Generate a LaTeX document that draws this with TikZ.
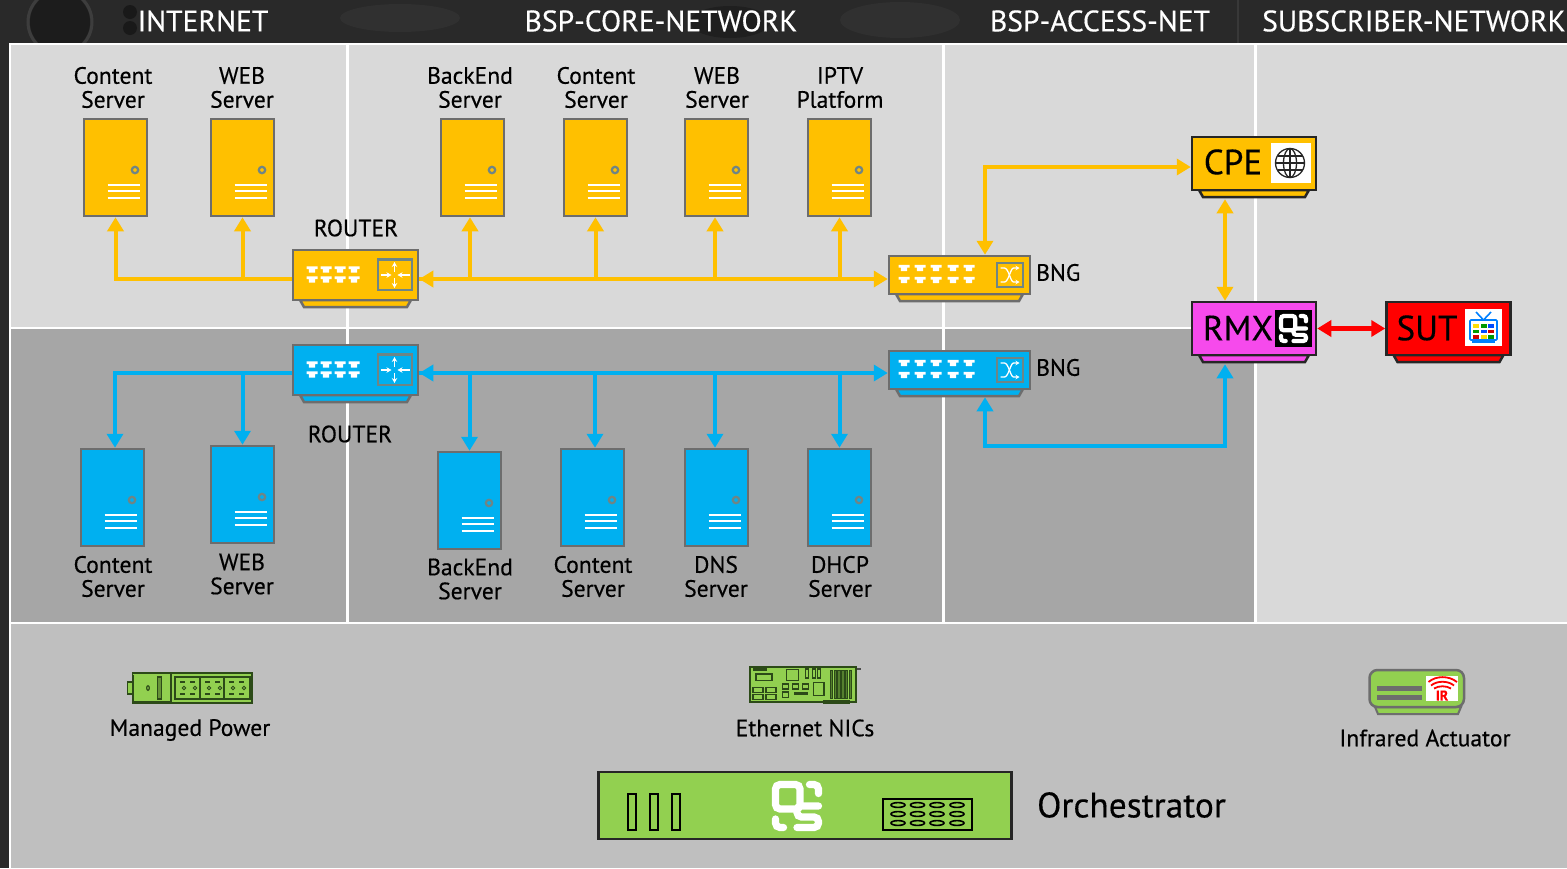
\documentclass[tikz,border=0pt]{standalone}
\usepackage{fontspec}
\setmainfont{PT Sans}[FakeBold=0.35]
\usetikzlibrary{arrows.meta,shapes.geometric}
\definecolor{gold}{HTML}{FFC000}
\definecolor{sky}{HTML}{00B0F0}
\definecolor{lite}{HTML}{D9D9D9}
\definecolor{midg}{HTML}{A6A6A6}
\definecolor{lowg}{HTML}{BFBFBF}
\definecolor{edge}{HTML}{6D6D6D}
\definecolor{teal2}{HTML}{6F8585}
\definecolor{lime}{HTML}{92D050}
\definecolor{darklime}{HTML}{2C4A18}
\definecolor{magent}{HTML}{F64AEC}
\tikzset{
 lbl/.style={inner sep=0pt,align=center,font=\fontsize{23.6}{24}\selectfont,text=black},
 hdr/.style={inner sep=0pt,text=white,font=\fontsize{29.6}{30}\selectfont},
 srvbox/.style={draw=edge,line width=2.5pt,minimum width=63pt,minimum height=97pt,inner sep=0pt},
 devbox/.style={line width=2.5pt,inner sep=0pt},
 conn/.style={line width=4pt},
 tipb/.style={-{Triangle[width=16pt,length=14pt]}},
 tipbb/.style={{Triangle[width=16pt,length=14pt]}-{Triangle[width=16pt,length=14pt]}},
}
% name, cx, cy, colour
\newcommand\srv[4]{%
 \node[srvbox,fill=#4] (#1) at (#2,#3) {};
 \begin{scope}[shift={(#2,#3)}]
  \draw[teal2,line width=2.2pt] (19.5,2.5) circle (3.2);
  \foreach \dy in {17,23.5,30} \draw[white,line width=2pt] (-8,\dy) -- (24,\dy);
 \end{scope}}
% name, cx, cy, w, h, fill, edge
\newcommand\dev[7]{%
 \draw[#7,line width=2.5pt,fill=#6] (#2-#4/2+7,#3+#5/2) -- (#2-#4/2+11,#3+#5/2+7) -- (#2+#4/2-11,#3+#5/2+7) -- (#2+#4/2-7,#3+#5/2) -- cycle;
 \node[devbox,draw=#7,fill=#6,minimum width=#4 pt,minimum height=#5 pt] (#1) at (#2,#3) {};}
\newcommand\port[2]{\fill[white] (#1-5.5,#2-3.2) -- (#1+5.5,#2-3.2) -- (#1+5.5,#2-0.3) -- (#1+3.2,#2-0.3) -- (#1+3.2,#2+3.2) -- (#1-3.2,#2+3.2) -- (#1-3.2,#2-0.3) -- (#1-5.5,#2-0.3) -- cycle;}
% router details around centre
\newcommand\rdet[2]{%
 \begin{scope}[shift={(#1,#2)}]
  \foreach \px in {-43.5,-29.5,-15.5,-1.5} {\port{\px}{-5.5}\port{\px}{4.5}}
  \draw[teal2,line width=2.5pt] (22.5,-15.5) rectangle (56.5,15);
  \begin{scope}[white,line width=1.4pt,-{Stealth[length=5pt,width=5.5pt]}]
   \draw (39,-3) -- (39,-13); \draw (39,3) -- (39,13);
   \draw (25,0) -- (36,0); \draw (54,0) -- (42,0);
  \end{scope}
 \end{scope}}
\newcommand\bdet[2]{%
 \begin{scope}[shift={(#1,#2)}]
  \foreach \px in {-55.5,-39.5,-23.5,-6.5,9.5} {\port{\px}{-7}\port{\px}{5}}
  \draw[teal2,line width=2.5pt] (37.5,-12) rectangle (63.5,12);
  \begin{scope}[white,line width=1.3pt,-{Stealth[length=4pt,width=4.5pt]}]
   \draw (41,-7) -- (45,-7) .. controls (49,-7) and (51,7) .. (54,7) -- (60,7);
   \draw (41,7) -- (45,7) .. controls (49,7) and (51,-7) .. (54,-7) -- (60,-7);
  \end{scope}
 \end{scope}}
% logo: x, y, size, colour
\newcommand\oslogo[4]{%
 \begin{scope}[shift={(#1,#2)},scale=#3]
  \begin{scope}[#4,line width=#3*0.145 pt,rounded corners=#3*0.09 pt,line cap=round]
   \draw (.07,.07) -- (.56,.07) -- (.56,.56) -- (.07,.56) -- cycle;
   \draw (.75,.07) -- (.93,.07) -- (.93,.25);
   \draw (.07,.76) -- (.07,.93) -- (.23,.93);
   \draw (.93,.5) -- (.5,.5) -- (.5,.72) -- (.93,.72) -- (.93,.93) -- (.5,.93);
  \end{scope}
 \end{scope}}
\begin{document}
\begin{tikzpicture}[x=1pt,y=-1pt]
\useasboundingbox (0,0) rectangle (1567,868);
% header background
\fill[black!84] (0,0) rectangle (1567,868);
\fill[black!89] (60,22) circle (30);
\draw[black!76,line width=3pt] (60,22) circle (32);
\fill[black!90] (130,12) circle (7);
\fill[black!90] (130,28) circle (7);
\fill[black!81] (400,18) ellipse (60 and 14);
\fill[black!88] (730,22) ellipse (40 and 16);
\fill[black!81] (900,20) ellipse (60 and 18);
\fill[black!78] (1237,0) rectangle (1239,44);
% panels
\fill[lite] (10,44) rectangle (1567,328);
\fill[midg] (10,328) rectangle (1255,623);
\fill[lite] (1255,328) rectangle (1567,623);
\fill[lowg] (10,623) rectangle (1567,868);
\draw[white,line width=2.5pt] (1567,44) -- (10,44) -- (10,868);
\draw[white,line width=2.5pt] (10,328) -- (1255,328);
\draw[white,line width=2.5pt] (10,623) -- (1567,623);
\foreach \vx in {347.5,943.5,1255.5} \draw[white,line width=2.5pt] (\vx,44) -- (\vx,623);
% headings
\node[hdr] (h1) at (203,21) {INTERNET};
\node[hdr] (h2) at (661,21) {BSP-CORE-NETWORK};
\node[hdr] (h3) at (1100,21) {BSP-ACCESS-NET};
\node[hdr,anchor=west] (h4) at (1262,21) {SUBSCRIBER-NETWORK};
% servers
\srv{s1}{115.5}{167.5}{gold}
\srv{s2}{242.5}{167.5}{gold}
\srv{s3}{472.5}{167.5}{gold}
\srv{s4}{595.5}{167.5}{gold}
\srv{s5}{716.5}{167.5}{gold}
\srv{s6}{839.5}{167.5}{gold}
\srv{b1}{112.5}{497.5}{sky}
\srv{b2}{242.5}{494.5}{sky}
\srv{b3}{469.5}{500.5}{sky}
\srv{b4}{592.5}{497.5}{sky}
\srv{b5}{716.5}{497.5}{sky}
\srv{b6}{839.5}{497.5}{sky}
% labels
\node[lbl] (t1) at (113,87.5) {Content\\Server};
\node[lbl] (t2) at (242,87.5) {WEB\\Server};
\node[lbl] (t3) at (470,87.5) {BackEnd\\Server};
\node[lbl] (t4) at (596,87.5) {Content\\Server};
\node[lbl] (t5) at (717,87.5) {WEB\\Server};
\node[lbl] (t6) at (840,87.5) {IPTV\\Platform};
\node[lbl] (u1) at (113,576.5) {Content\\Server};
\node[lbl] (u2) at (242,574) {WEB\\Server};
\node[lbl] (u3) at (470,579) {BackEnd\\Server};
\node[lbl] (u4) at (593,576.5) {Content\\Server};
\node[lbl] (u5) at (716,576.5) {DNS\\Server};
\node[lbl] (u6) at (840,576.5) {DHCP\\Server};
\node[lbl] (rl1) at (356,228) {ROUTER};
\node[lbl] (rl2) at (350,434) {ROUTER};
\node[lbl,anchor=west] (bl1) at (1036,272.5) {BNG};
\node[lbl,anchor=west] (bl2) at (1036,367.5) {BNG};
% devices
\dev{r1}{355.5}{275}{125}{50}{gold}{edge}
\dev{r2}{355.5}{370}{125}{50}{sky}{edge}
\dev{g1}{959.5}{275}{141}{38}{gold}{edge}
\dev{g2}{959.5}{370}{141}{38}{sky}{edge}
\rdet{355.5}{275}
\rdet{355.5}{370}
\bdet{959.5}{275}
\bdet{959.5}{370}
\dev{cpe}{1254}{163.5}{124}{53}{gold}{black!85}
\dev{rmx}{1254}{328.5}{124}{53}{magent}{black!85}
\dev{sut}{1448.5}{328.5}{124}{53}{red}{black!85}
\node[inner sep=0pt,font=\fontsize{35}{36}\selectfont] (cpet) at (1233,162) {CPE};
\node[inner sep=0pt,font=\fontsize{35}{36}\selectfont] (rmxt) at (1238,328) {RMX};
\node[inner sep=0pt,font=\fontsize{35}{36}\selectfont] (sutt) at (1427,328) {SUT};
% globe
\fill[white] (1271,143) rectangle (1311,183);
\begin{scope}[shift={(1290,163)},black!85,line width=1.3pt]
 \draw (0,0) circle (14.5);
 \draw (0,0) ellipse (6.5 and 14.5);
 \draw (0,-14.5) -- (0,14.5);
 \draw (-14.5,0) -- (14.5,0);
 \draw (-12.5,-7) -- (12.5,-7);
 \draw (-12.5,7) -- (12.5,7);
\end{scope}
% logo on RMX
\fill[black] (1275,310) rectangle (1312,347);
\oslogo{1279}{314}{29}{white}
% TV
\fill[white] (1465,309) rectangle (1502,346);
\begin{scope}[line width=1.6pt]
 \draw[color=blue!50!cyan] (1483.5,320) -- (1476,312);
 \draw[color=blue!50!cyan] (1483.5,320) -- (1491,312);
 \draw[color=blue!50!cyan,fill=white,rounded corners=1pt] (1470,320) rectangle (1497,340);
 \draw[color=blue!50!cyan] (1472,342) -- (1495,342);
\end{scope}
\foreach \tx/\ty/\tc in {1473/324/yellow!80!orange,1480.5/324/green!60!black,1488/324/blue!70!cyan,1473/329.5/green!60!black,1480.5/329.5/blue!70!cyan,1488/329.5/red!80!black,1473/335/red!80!black,1480.5/335/yellow!80!orange,1488/335/green!60!black}
 \fill[\tc] (\tx,\ty) rectangle ++(6,3.8);
% connectors gold
\begin{scope}[gold,conn]
 \draw[tipb] ([yshift=-4pt]r1.west) -| (s1.south);
 \draw[tipb] ([yshift=-4pt]r1.west) -| (s2.south);
 \draw[tipb] ([yshift=-4pt]r1.east) -| ([xshift=-2.5pt]s3.south);
 \draw[tipb] ([yshift=-4pt]r1.east) -| (s4.south);
 \draw[tipb] ([yshift=-4pt]r1.east) -| ([xshift=-1.5pt]s5.south);
 \draw[tipb] ([yshift=-4pt]r1.east) -| (s6.south);
 \draw[tipbb] ([yshift=-4pt]r1.east) -- ([yshift=-4pt]g1.west);
 \draw[tipbb] ([xshift=25.5pt]g1.north) |- ([yshift=-3.5pt]cpe.west);
 \draw[tipbb] ([xshift=-29pt,yshift=-8pt]cpe.south) -- ([xshift=-29pt]rmx.north);
\end{scope}
% connectors blue
\begin{scope}[sky,conn]
 \draw[tipb] ([yshift=-3pt]r2.west) -| ([xshift=2.5pt]b1.north);
 \draw[tipb] ([yshift=-3pt]r2.west) -| (b2.north);
 \draw[tipb] ([yshift=-3pt]r2.east) -| (b3.north);
 \draw[tipb] ([yshift=-3pt]r2.east) -| ([xshift=2.5pt]b4.north);
 \draw[tipb] ([yshift=-3pt]r2.east) -| ([xshift=-1.5pt]b5.north);
 \draw[tipb] ([yshift=-3pt]r2.east) -| (b6.north);
 \draw[tipbb] ([yshift=-3pt]r2.east) -- ([yshift=-3pt]g2.west);
 \draw[tipbb] ([xshift=25.5pt,yshift=-7pt]g2.south) -- ++(0,49) -| ([xshift=-29pt,yshift=-8pt]rmx.south);
\end{scope}
\draw[red,line width=5pt,tipbb] (rmx.east) -- (sut.west);
% Managed power
\begin{scope}[draw=darklime,line width=1.2pt]
 \draw[fill=lime] (127.5,682) rectangle (133,694);
 \draw[fill=lime,line width=1.5pt] (132.5,673) rectangle (252,703);
 \draw (133,674.5) -- (133,701.5) -- (171,701.5) -- (171,673);
 \draw[fill=lime!70!black] (157.5,677) rectangle (161.5,699);
 \draw (148,688) ellipse (1.3 and 2.3);
 \draw (175,677) rectangle (250,699);
 \draw (200,677) -- (200,699);
 \draw (224,677) -- (224,699);
\end{scope}
\foreach \ox in {175,200,224} \foreach \dx/\dy in {5/4,15/4,5/16,15/16} \fill[darklime] (\ox+\dx,677+\dy) rectangle ++(5,2);
\foreach \ox in {175,200,224} {\draw[darklime,line width=.8pt] (\ox+9,688) circle (1.7); \draw[darklime,line width=.8pt] (\ox+20,688) circle (1.7);}
\node[lbl] (mp) at (190,730) {Managed Power};
% NIC
\begin{scope}[darklime,line width=1.1pt]
 \draw[black!70,line width=1.4pt] (856,669) -- (861,669);
 \draw[black!70,line width=1.4pt] (856,667) -- (856,703);
 \draw[fill=lime,line width=1.3pt] (750,667) rectangle (856,702);
 \draw (756,674) rectangle (772,680.5);
 \draw[fill=darklime] (754,668.5) rectangle (766,670);
 \draw (753,687.5) rectangle (763,692.5);
 \draw (753,694.5) rectangle (763,699.5);
 \draw (766,687.5) rectangle (776,692.5);
 \draw (766,694.5) rectangle (776,699.5);
 \draw (786.5,669.5) rectangle (798.5,680.5);
 \draw (782.5,684) rectangle (788.5,689);
 \draw (792.5,684) rectangle (798.5,689);
 \draw (802.5,684) rectangle (808.5,689);
 \draw (782.5,692) rectangle (788.5,697.5);
 \draw[fill=darklime] (794.5,692.5) rectangle (807,694.5);
 \draw (805.5,669) rectangle (808.5,678);
 \draw (812.5,669) rectangle (815.5,678);
 \draw (817.5,669) rectangle (820.5,678);
 \draw (813.5,682.5) rectangle (824,695.5);
 \foreach \hx in {830,833.8,...,852} \draw[fill=darklime!60!lime,line width=.6pt] (\hx,670) rectangle (\hx+2.4,698);
 \fill[darklime] (823,700) rectangle (850,704);
\end{scope}
\node[lbl] (nic) at (805,728) {Ethernet NICs};
% IR
\draw[edge,line width=2pt,fill=lime] (1375,707) -- (1378,714) -- (1458,714) -- (1461,707) -- cycle;
\draw[edge,line width=2.5pt,fill=lime,rounded corners=8pt] (1369.5,707) -- (1369.5,670) -- (1464,670) -- (1464,707) -- cycle;
\fill[edge] (1377,686) rectangle (1422,691);
\fill[edge] (1377,694.5) rectangle (1422,699.5);
\fill[white] (1426,676) rectangle (1458,701);
\begin{scope}[red,line width=1.8pt]
 \draw (1428.5,682) .. controls (1436,675.5) and (1449,675.5) .. (1457,682);
 \draw (1431,685.5) .. controls (1437,680.5) and (1448,680.5) .. (1454,685.5);
 \draw (1434,688.5) .. controls (1439,685.5) and (1446,685.5) .. (1451,688.5);
\end{scope}
\node[inner sep=0pt,text=red,font=\fontsize{14}{14}\selectfont\bfseries] (irt) at (1442,695.5) {IR};
\node[lbl] (ir) at (1425,738) {Infrared Actuator};
% Orchestrator
\node[draw=black!85,line width=2.5pt,fill=lime,minimum width=413pt,minimum height=67pt,inner sep=0pt] (orc) at (805,805.5) {};
\foreach \sx in {628,650,672} \draw[black,line width=2pt] (\sx,794) rectangle (\sx+8,830);
\oslogo{772}{781}{50}{white}
\draw[black,line width=2pt] (883,799) rectangle (972,830);
\foreach \ox in {898,917.5,937,957} \foreach \oy in {805,814,823} \draw[black,line width=1.6pt] (\ox,\oy) ellipse (7 and 2.4);
\node[inner sep=0pt,anchor=west,font=\fontsize{35.4}{36}\selectfont] (orct) at (1037,805) {Orchestrator};
\end{tikzpicture}
\end{document}
